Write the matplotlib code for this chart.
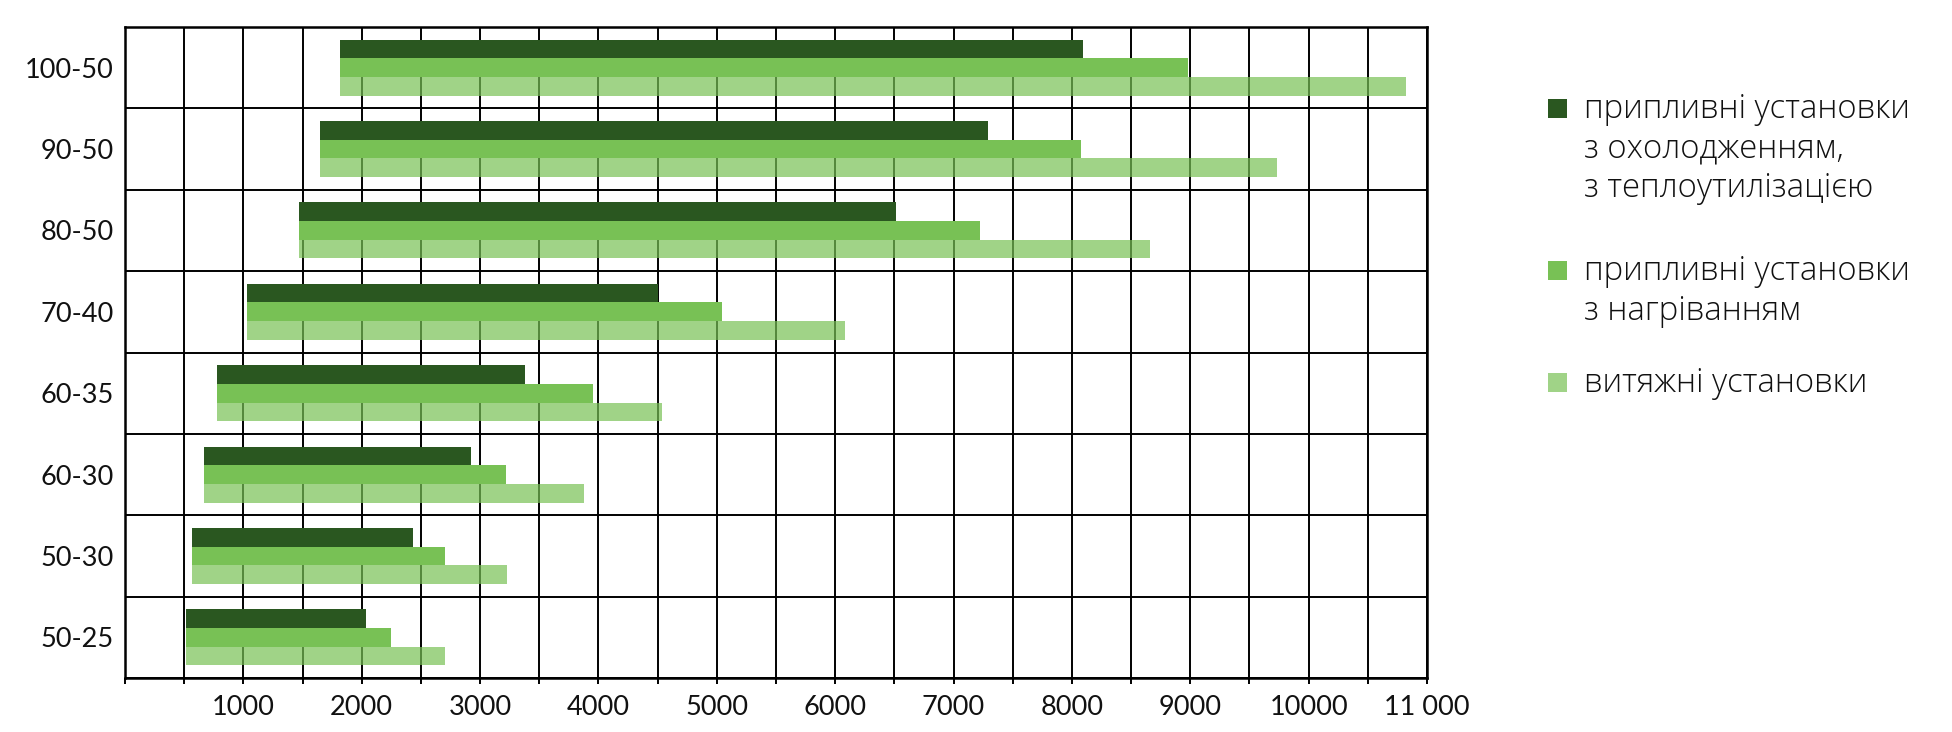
import numpy as np
import matplotlib
matplotlib.use("Agg")
import matplotlib.pyplot as plt
import matplotlib.patches as patches
from matplotlib.ticker import MultipleLocator, FuncFormatter, FixedLocator

# === data ===
categories = ['100-50', '90-50', '80-50', '70-40', '60-35', '60-30', '50-30', '50-25']
start = [1815, 1645, 1470, 1030, 780, 670, 570, 515]
cooling = [8090, 7290, 6510, 4500, 3380, 2920, 2430, 2040]
heating = [8980, 8080, 7220, 5040, 3950, 3220, 2700, 2250]
exhaust = [10820, 9730, 8660, 6080, 4540, 3880, 3230, 2700]

series_labels = ['припливні установки\nз охолодженням,\nз теплоутилізацією',
                 'припливні установки\nз нагріванням',
                 'витяжні установки']

dark = '#2a5720'
mid = '#78c155'

W, H = 1952, 732
fig = plt.figure(figsize=(W / 100, H / 100), dpi=100)
ax = fig.add_axes([125 / W, 1 - 678 / H, (1427 - 125) / W, (678 - 27) / H])

y = np.arange(len(categories))
h = 0.229
st = np.array(start)
ax.barh(y - h, np.array(cooling) - st, left=st, height=h, color=dark, lw=0, zorder=3)
ax.barh(y, np.array(heating) - st, left=st, height=h, color=mid, lw=0, zorder=3)
ax.barh(y + h, np.array(exhaust) - st, left=st, height=h, color=mid, alpha=0.7, lw=0, zorder=3)

ax.set_xlim(0, 11000)
ax.set_ylim(len(categories) - 0.5, -0.5)

# x grid every 500, labels every 1000
ax.xaxis.set_major_locator(MultipleLocator(500))
def fmt(v, pos):
    v = int(round(v))
    if v == 0 or v % 1000:
        return ''
    return '11 000' if v == 11000 else str(v)
ax.xaxis.set_major_formatter(FuncFormatter(fmt))
ax.tick_params(axis='x', length=4, width=1.4, color='black', pad=8,
               labelsize=19.5, labelcolor='#111111')

ax.set_yticks(y)
ax.set_yticklabels(categories)
ax.yaxis.set_minor_locator(FixedLocator(np.arange(len(categories) + 1) - 0.5))
ax.tick_params(axis='y', which='major', length=0, pad=8, labelsize=19.5, labelcolor='#111111')
ax.tick_params(axis='y', which='minor', length=0)

for lab in ax.get_xticklabels() + ax.get_yticklabels():
    lab.set_family(['Lato', 'DejaVu Sans'])

ax.grid(axis='x', which='major', color='black', lw=1.4, zorder=0)
ax.grid(axis='y', which='minor', color='black', lw=1.4, zorder=0)
ax.set_axisbelow(True)
for s in ax.spines.values():
    s.set_linewidth(1.8)
    s.set_color('black')

# === legend drawn by hand ===
colors = [dark, mid, (0.47, 0.757, 0.333, 0.7)]
baselines = [118, 280, 392]
for lab, col, b in zip(series_labels, colors, baselines):
    fig.patches.append(patches.Rectangle((1548 / W, 1 - (b - 0.5) / H), 19 / W, 19 / H,
                                         transform=fig.transFigure, color=col, lw=0))
    for k, line in enumerate(lab.split('\n')):
        fig.text(1584 / W, 1 - (b + 39.5 * k) / H, line, fontsize=23.7, va='baseline',
                 ha='left', family=['Open Sans', 'DejaVu Sans'], weight='light', color='#111111')

plt.savefig('out.png', dpi=100)
plt.close()
